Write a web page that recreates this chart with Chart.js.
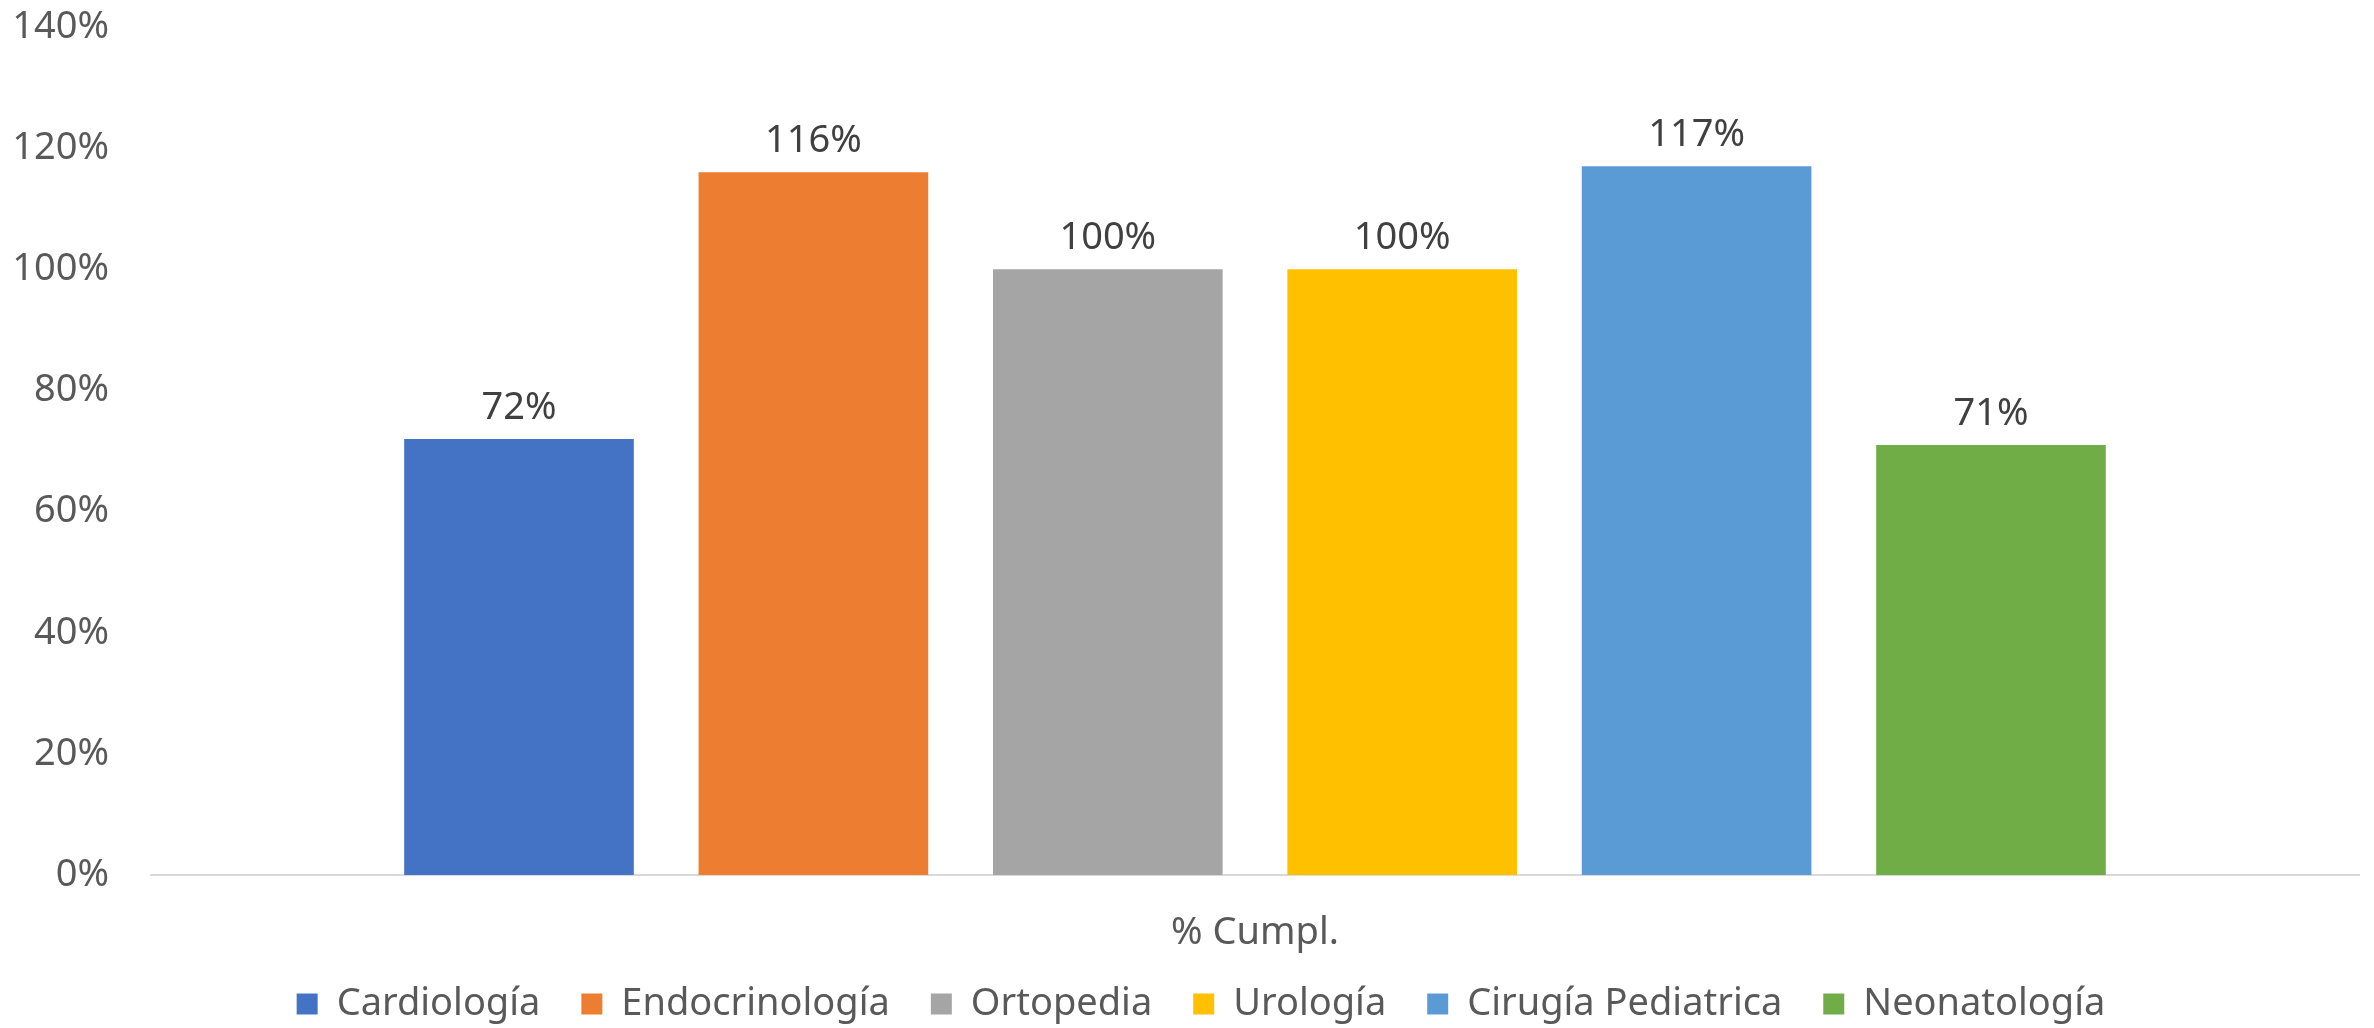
<!DOCTYPE html>
<html>
<head>
<meta charset="utf-8">
<script src="https://cdn.jsdelivr.net/npm/chart.js@4.4.1/dist/chart.umd.min.js"></script>
<style>
    html, body { margin: 0; padding: 0; background: #ffffff; }
    #wrap { width: 2374px; height: 1028px; }
</style>
</head>
<body>
<div id="wrap"><canvas id="cumplChart" width="2374" height="1028"></canvas></div>
<script>
// Chart data
const categories = ['% Cumpl.'];
const services = ['Cardiología', 'Endocrinología', 'Ortopedia', 'Urología', 'Cirugía Pediatrica', 'Neonatología'];
const cumplValues = [72, 116, 100, 100, 117, 71];
const serviceColors = ['#4472C4', '#ED7D31', '#A5A5A5', '#FFC000', '#5B9BD5', '#70AD47'];
const yTicks = [0, 20, 40, 60, 80, 100, 120, 140];

const FONT = '"Noto Sans", "Open Sans", sans-serif';
const FONT_SIZE = 38;

// Value labels above each bar
const barLabels = {
    id: 'barLabels',
    afterDatasetsDraw(chart) {
        const ctx = chart.ctx;
        ctx.save();
        ctx.font = FONT_SIZE + 'px ' + FONT;
        ctx.fillStyle = '#404040';
        ctx.textAlign = 'center';
        ctx.textBaseline = 'middle';
        chart.data.datasets.forEach((ds, i) => {
            const meta = chart.getDatasetMeta(i);
            meta.data.forEach((bar, j) => {
                ctx.fillText(ds.data[j] + '%', bar.x, bar.y - 31);
            });
        });
        ctx.restore();
    }
};

// legend in the original sits a little right of the canvas centre
const legendShift = {
    id: 'legendShift',
    afterLayout(chart) {
        chart.legend.left += 14;
        chart.legend.right += 14;
    }
};

// fixed axis sizes so the plot area lands where the original has it
function fitX(axis) {
    axis.paddingLeft = 0;
    axis.paddingRight = 0;
    axis.height = 69;
}
function fitY(axis) {
    axis.paddingTop = 0;
    axis.paddingBottom = 0;
    axis.width = 136;
}

const datasets = services.map((name, i) => ({
    label: name,
    data: [cumplValues[i]],
    backgroundColor: serviceColors[i],
    borderWidth: 0,
    categoryPercentage: 0.8,
    barPercentage: 0.78
}));

new Chart(document.getElementById('cumplChart'), {
    type: 'bar',
    data: { labels: categories, datasets: datasets },
    plugins: [barLabels, legendShift],
    options: {
        responsive: false,
        animation: false,
        layout: { padding: { left: 15, right: 15, top: 27, bottom: -5 } },
        plugins: {
            legend: {
                position: 'bottom',
                labels: {
                    boxWidth: 21,
                    boxHeight: 21,
                    padding: 41,
                    color: '#595959',
                    font: { family: FONT, size: FONT_SIZE }
                }
            },
            tooltip: { enabled: false }
        },
        scales: {
            x: {
                afterFit: fitX,
                grid: { display: false, drawTicks: false },
                border: { display: true, color: '#D9D9D9', width: 2 },
                ticks: {
                    color: '#595959',
                    // mirror + negative padding: label sits below the axis without being clipped
                    mirror: true,
                    padding: -74,
                    font: { family: FONT, size: FONT_SIZE, lineHeight: 0.84 }
                }
            },
            y: {
                min: 0,
                max: 140,
                afterFit: fitY,
                afterBuildTicks: (axis) => { axis.ticks = yTicks.map(v => ({ value: v })); },
                grid: { display: false, drawTicks: false },
                border: { display: false },
                ticks: {
                    color: '#595959',
                    padding: 42,
                    font: { family: FONT, size: FONT_SIZE },
                    callback: (v) => v + '%'
                }
            }
        }
    }
});
</script>
</body>
</html>
